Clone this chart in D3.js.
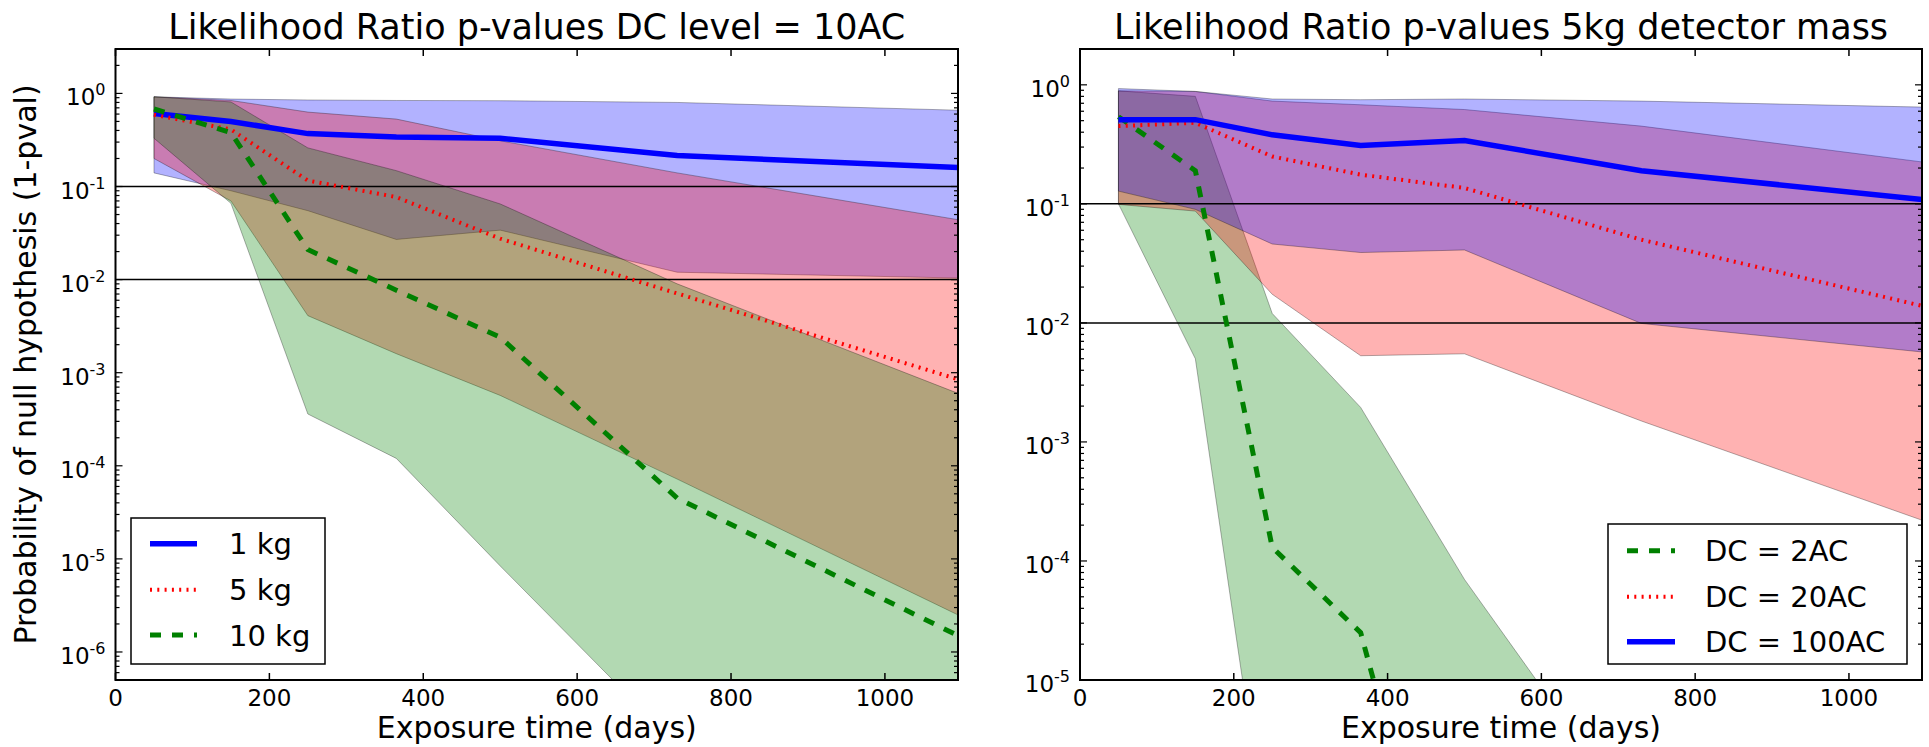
<!DOCTYPE html>
<html lang="en">

<head>
    <meta charset="UTF-8">
    <title>Likelihood Ratio p-values</title>
    <script src="https://cdn.jsdelivr.net/npm/d3@7"></script>
    <style>
        body { margin: 0; background: #fff; }
        text { font-family: "DejaVu Sans", sans-serif; fill: #000; }
    </style>
</head>

<body>
    <script>
    // exposure times (days), shared by both panels
    var days = [50, 150, 250, 365, 500, 730, 1095];
    var xTicks = [0, 200, 400, 600, 800, 1000];

    // left panel: DC level = 10AC, three detector masses
    var kg1Med = [0.61, 0.50, 0.37, 0.34, 0.33, 0.215, 0.16];
    var kg1Hi = [0.92, 0.87, 0.85, 0.84, 0.835, 0.80, 0.66];
    var kg1Lo = [0.14, 0.09, 0.055, 0.027, 0.034, 0.012, 0.0104];
    var kg5Med = [0.59, 0.41, 0.116, 0.077, 0.0275, 0.0071, 0.00085];
    var kg5Hi = [0.92, 0.84, 0.63, 0.53, 0.31, 0.14, 0.044];
    var kg5Lo = [0.2, 0.07, 0.0041, 0.0016, 0.00057, 0.000072, 0.0000025];
    var kg10Med = [0.68, 0.38, 0.021, 0.0077, 0.0024, 0.000045, 0.0000015];
    var kg10Hi = [0.92, 0.81, 0.26, 0.148, 0.065, 0.009, 0.0006];
    var kg10Lo = [0.33, 0.066, 0.00036, 0.00012, 0.0000084, 1e-7, 1e-9];

    // right panel: 5kg detector mass, three DC levels
    var dc2Med = [0.54, 0.19, 0.00013, 0.000025, 1.5e-8, 1e-10, 1e-12];
    var dc2Hi = [0.89, 0.80, 0.012, 0.00195, 0.00007, 5.8e-7, 1e-8];
    var dc2Lo = [0.1, 0.005, 2e-7, 1e-9, 1e-10, 1e-11, 1e-12];
    var dc20Med = [0.45, 0.48, 0.25, 0.176, 0.136, 0.050, 0.0139];
    var dc20Hi = [0.89, 0.88, 0.73, 0.68, 0.62, 0.45, 0.225];
    var dc20Lo = [0.099, 0.087, 0.0174, 0.0053, 0.0055, 0.0015, 0.00022];
    var dc100Med = [0.51, 0.51, 0.38, 0.31, 0.34, 0.19, 0.109];
    var dc100Hi = [0.93, 0.88, 0.76, 0.75, 0.76, 0.73, 0.65];
    var dc100Lo = [0.128, 0.09, 0.046, 0.039, 0.041, 0.0099, 0.0057];

    // reference lines
    var hLines = [0.1, 0.01];

    var width = 1929;
    var height = 747;
    var svg = d3.select('body')
        .append('svg')
        .attr('width', width)
        .attr('height', height);

    var styles = {
        blue: { color: '#0000ff', lw: 5.5, dash: null },
        red: { color: '#ff0000', lw: 4, dash: '2,5.3' },
        green: { color: '#008000', lw: 5, dash: '11,11' }
    };

    var panels = [{
        id: 'left',
        left: 115.5, right: 958, top: 49, bottom: 680,
        yDomain: [5e-7, 3],
        title: 'Likelihood Ratio p-values DC level = 10AC',
        ylabel: 'Probability of null hypothesis (1-pval)',
        series: [
            { name: '1 kg', med: kg1Med, hi: kg1Hi, lo: kg1Lo, s: styles.blue },
            { name: '5 kg', med: kg5Med, hi: kg5Hi, lo: kg5Lo, s: styles.red },
            { name: '10 kg', med: kg10Med, hi: kg10Hi, lo: kg10Lo, s: styles.green }
        ],
        legend: { x: 131, y: 518, w: 194, h: 146, rows: [543.7, 589.7, 635], lx0: 150, lx1: 197, tx: 229 }
    }, {
        id: 'right',
        left: 1080, right: 1922, top: 49, bottom: 680,
        yDomain: [1e-5, 2],
        title: 'Likelihood Ratio p-values 5kg detector mass',
        ylabel: null,
        series: [
            { name: 'DC = 2AC', med: dc2Med, hi: dc2Hi, lo: dc2Lo, s: styles.green },
            { name: 'DC = 20AC', med: dc20Med, hi: dc20Hi, lo: dc20Lo, s: styles.red },
            { name: 'DC = 100AC', med: dc100Med, hi: dc100Hi, lo: dc100Lo, s: styles.blue }
        ],
        legend: { x: 1608, y: 524, w: 299, h: 140, rows: [550.7, 596.7, 641.7], lx0: 1627, lx1: 1675, tx: 1705 }
    }];

    panels.forEach(function(p) {
        var x = d3.scaleLinear().domain([0, 1095]).range([p.left, p.right]);
        var y = d3.scaleLog().domain(p.yDomain).range([p.bottom, p.top]);
        var g = svg.append('g');

        g.append('clipPath').attr('id', 'clip-' + p.id)
            .append('rect')
            .attr('x', p.left).attr('y', p.top)
            .attr('width', p.right - p.left).attr('height', p.bottom - p.top);

        var plot = g.append('g').attr('clip-path', 'url(#clip-' + p.id + ')');

        // shaded bands first, in series order
        p.series.forEach(function(ser) {
            var area = d3.area()
                .x(function(d, i) { return x(days[i]); })
                .y0(function(d, i) { return y(ser.lo[i]); })
                .y1(function(d, i) { return y(ser.hi[i]); });
            plot.append('path')
                .attr('d', area(days))
                .attr('fill', ser.s.color)
                .attr('fill-opacity', 0.3)
                .attr('stroke', '#000')
                .attr('stroke-opacity', 0.3)
                .attr('stroke-width', 1);
        });

        hLines.forEach(function(v) {
            plot.append('line')
                .attr('x1', p.left).attr('x2', p.right)
                .attr('y1', y(v)).attr('y2', y(v))
                .attr('stroke', '#000').attr('stroke-width', 1.5);
        });

        // median curves on top
        p.series.forEach(function(ser) {
            var line = d3.line()
                .x(function(d, i) { return x(days[i]); })
                .y(function(d, i) { return y(ser.med[i]); });
            plot.append('path')
                .attr('d', line(days))
                .attr('fill', 'none')
                .attr('stroke', ser.s.color)
                .attr('stroke-width', ser.s.lw)
                .attr('stroke-dasharray', ser.s.dash);
        });

        // frame
        g.append('rect')
            .attr('x', p.left).attr('y', p.top)
            .attr('width', p.right - p.left).attr('height', p.bottom - p.top)
            .attr('fill', 'none').attr('stroke', '#000').attr('stroke-width', 2);

        // x ticks (inside, bottom and top)
        xTicks.forEach(function(t) {
            var xx = x(t);
            g.append('line').attr('x1', xx).attr('x2', xx)
                .attr('y1', p.bottom).attr('y2', p.bottom - 7)
                .attr('stroke', '#000').attr('stroke-width', 1.5);
            g.append('line').attr('x1', xx).attr('x2', xx)
                .attr('y1', p.top).attr('y2', p.top + 7)
                .attr('stroke', '#000').attr('stroke-width', 1.5);
            g.append('text')
                .attr('x', xx).attr('y', 706)
                .attr('text-anchor', 'middle')
                .attr('font-size', '23px')
                .text(t);
        });

        // y ticks: decades + minor ticks, on both sides
        var lo = Math.floor(Math.log10(p.yDomain[0]));
        var hi = Math.ceil(Math.log10(p.yDomain[1]));
        for (var k = lo; k <= hi; k++) {
            for (var m = 1; m < 10; m++) {
                var v = m * Math.pow(10, k);
                if (v < p.yDomain[0] * 0.999 || v > p.yDomain[1] * 1.001) continue;
                var yy = y(v);
                var len = m === 1 ? 7 : 4;
                g.append('line').attr('x1', p.left).attr('x2', p.left + len)
                    .attr('y1', yy).attr('y2', yy)
                    .attr('stroke', '#000').attr('stroke-width', 1.2);
                g.append('line').attr('x1', p.right).attr('x2', p.right - len)
                    .attr('y1', yy).attr('y2', yy)
                    .attr('stroke', '#000').attr('stroke-width', 1.2);
                if (m === 1) {
                    var lab = g.append('text')
                        .attr('x', p.left - 10).attr('y', yy + 12)
                        .attr('text-anchor', 'end')
                        .attr('font-size', '23px');
                    lab.append('tspan').text('10');
                    lab.append('tspan').attr('dy', -10).attr('font-size', '16px').text(k);
                }
            }
        }

        // titles and labels
        var cx = (p.left + p.right) / 2;
        g.append('text')
            .attr('x', cx).attr('y', 39)
            .attr('text-anchor', 'middle')
            .attr('font-size', '35px')
            .text(p.title);
        g.append('text')
            .attr('x', cx).attr('y', 738)
            .attr('text-anchor', 'middle')
            .attr('font-size', '30px')
            .text('Exposure time (days)');
        if (p.ylabel) {
            g.append('text')
                .attr('transform', 'translate(36,' + ((p.top + p.bottom) / 2) + ') rotate(-90)')
                .attr('text-anchor', 'middle')
                .attr('font-size', '30px')
                .text(p.ylabel);
        }

        // legend
        var L = p.legend;
        g.append('rect')
            .attr('x', L.x).attr('y', L.y).attr('width', L.w).attr('height', L.h)
            .attr('fill', '#fff').attr('stroke', '#000').attr('stroke-width', 1.5);
        p.series.forEach(function(ser, i) {
            var ry = L.rows[i];
            g.append('line')
                .attr('x1', L.lx0).attr('x2', L.lx1)
                .attr('y1', ry).attr('y2', ry)
                .attr('stroke', ser.s.color)
                .attr('stroke-width', ser.s.lw)
                .attr('stroke-dasharray', ser.s.dash);
            g.append('text')
                .attr('x', L.tx).attr('y', ry + 10.5)
                .attr('font-size', '29px')
                .text(ser.name);
        });
    });
    </script>
</body>

</html>
